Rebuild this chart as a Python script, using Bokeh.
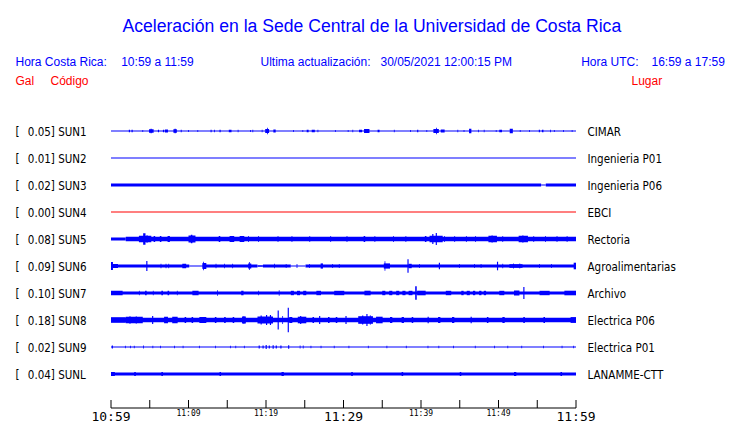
from bokeh.plotting import figure
from bokeh.models import Range1d, ColumnDataSource
from bokeh.core.properties import value
from bokeh.embed import file_html
from bokeh.resources import INLINE

# ---------------- data ----------------
TITLE = "Aceleración en la Sede Central de la Universidad de Costa Rica"
LOCAL_LABEL = "Hora Costa Rica:"
LOCAL_RANGE = "10:59 a 11:59"
UPDATE_LABEL = "Ultima actualización:"
UPDATE_VALUE = "30/05/2021 12:00:15 PM"
UTC_LABEL = "Hora UTC:"
UTC_RANGE = "16:59 a 17:59"
HEAD_GAL, HEAD_CODE, HEAD_PLACE = "Gal", "Código", "Lugar"

CODES = ["SUN1", "SUN2", "SUN3", "SUN4", "SUN5", "SUN6", "SUN7", "SUN8", "SUN9", "SUNL"]
GAL = [0.05, 0.01, 0.02, 0.00, 0.08, 0.09, 0.10, 0.18, 0.02, 0.04]
PLACES = ["CIMAR", "Ingenieria P01", "Ingenieria P06", "EBCI", "Rectoria",
          "Agroalimentarias", "Archivo", "Electrica P06", "Electrica P01", "LANAMME-CTT"]
TRACE_COLORS = ["blue", "blue", "blue", "red", "blue", "blue", "blue", "blue", "blue", "blue"]

# time axis (minutes after 10:59)
TICKS = list(range(0, 61, 5))
LABEL_TICKS = [0, 10, 20, 30, 40, 50, 60]
LABEL_TEXT = ["10:59", "11:09", "11:19", "11:29", "11:39", "11:49", "11:59"]
BIG_LABELS = [0, 30, 60]

# trace envelopes: (start minute, end minute, half amplitude)
SUN1 = [(0, 60, 0.5), (2.3, 2.45, 1.2), (2.65, 2.8, 1.2), (4.05, 4.15, 0.9), (4.9, 5.5, 1.8),
        (5.1, 5.25, 2.2), (6.05, 6.2, 1.3), (6.7, 6.85, 1.3), (6.95, 7.35, 1.5), (8.05, 8.5, 1.8),
        (8.2, 8.35, 2.3), (9.0, 9.12, 1.2), (9.95, 10.05, 0.9), (11.15, 11.25, 0.9), (12.85, 12.98, 1.2),
        (13.3, 13.4, 1.2), (14.0, 14.15, 1.3), (15.2, 15.55, 1.3), (16.35, 16.45, 1.2), (17.95, 18.05, 1.0),
        (18.25, 18.35, 1.2), (19.45, 19.55, 1.2), (19.9, 20.4, 2.0), (20.15, 20.25, 3.3), (20.95, 21.25, 1.6),
        (23.5, 23.6, 0.9), (24.7, 24.8, 0.9), (25.25, 25.5, 1.3), (25.9, 26.3, 1.3), (26.65, 26.75, 1.2),
        (28.9, 29.0, 0.9), (30.55, 30.65, 0.9), (31.15, 31.25, 1.2), (32.0, 32.4, 1.3), (32.65, 33.35, 1.9),
        (34.4, 34.65, 1.3), (36.5, 36.6, 1.2), (38.6, 38.7, 0.9), (39.5, 39.65, 1.2), (40.7, 40.8, 0.9),
        (41.6, 42.3, 1.9), (41.95, 42.05, 3.3), (42.55, 43.05, 1.6), (44.7, 44.8, 1.2), (45.5, 45.6, 0.9),
        (46.2, 46.5, 2.3), (47.35, 47.45, 1.2), (48.1, 48.2, 1.2), (49.65, 49.75, 1.0), (50.1, 50.45, 1.3),
        (51.45, 51.85, 2.2), (52.75, 52.85, 0.9), (53.95, 54.05, 0.9), (55.2, 55.35, 1.2), (55.6, 55.8, 1.3),
        (56.65, 56.75, 1.2), (57.15, 57.25, 1.0), (58.35, 58.45, 0.9), (59.45, 59.55, 1.0)]
SUN2 = [(0, 60, 0.5)]
SUN3 = [(0, 55.5, 1.5), (55.5, 56.1, 0.5), (56.1, 60, 1.5)]
SUN4 = [(0, 60, 0.5)]
SUN5 = [(0, 1.9, 1.5), (1.9, 60, 2.3), (3.6, 5.2, 3.2), (4.15, 4.45, 5.8), (4.6, 4.7, 4.0),
        (5.5, 5.7, 2.9), (6.3, 6.5, 2.9), (7.3, 7.6, 2.9), (10.0, 10.9, 3.5), (10.3, 10.5, 4.3),
        (13.9, 14.1, 3.0), (15.3, 15.9, 2.9), (16.6, 17.2, 2.9), (17.7, 17.8, 3.0), (19.0, 19.1, 2.9),
        (21.5, 21.6, 2.9), (23.3, 23.4, 2.9), (25.6, 25.7, 2.9), (28.3, 28.4, 2.9), (30.4, 30.5, 2.9),
        (32.6, 32.8, 2.9), (34.0, 34.1, 2.9), (36.4, 36.5, 2.9), (38.0, 38.1, 2.9), (40.5, 40.7, 2.9),
        (41.1, 42.8, 3.2), (41.45, 41.6, 5.0), (41.9, 42.05, 6.0), (43.0, 43.1, 3.0), (44.3, 44.4, 2.9),
        (45.8, 45.9, 2.9), (47.0, 47.1, 2.9), (48.7, 49.8, 3.2), (49.1, 49.25, 3.6), (50.5, 50.6, 2.9),
        (52.6, 53.8, 3.2), (53.1, 53.2, 3.8), (54.5, 54.6, 2.9), (56.0, 56.1, 2.9), (57.5, 57.6, 2.9),
        (58.8, 58.9, 2.9)]
SUN6 = [(0, 10.1, 1.5), (10.1, 11.8, 0.5), (11.8, 18.9, 1.5), (18.9, 19.6, 0.8), (19.6, 23.2, 1.5),
        (23.2, 25.1, 0.5), (25.1, 60, 1.5), (0.0, 0.25, 4.0), (0.25, 0.9, 2.0), (4.55, 4.7, 5.0),
        (6.4, 6.5, 2.3), (7.05, 7.15, 2.3), (7.4, 7.5, 2.3), (9.2, 9.7, 2.3), (11.8, 12.3, 3.0),
        (11.9, 12.0, 4.3), (13.5, 13.6, 2.2), (14.6, 14.7, 2.2), (15.65, 15.75, 2.3), (17.7, 18.1, 2.5),
        (17.8, 17.9, 4.0), (21.05, 21.15, 2.3), (22.55, 22.65, 2.0), (23.95, 24.05, 2.0), (25.55, 25.65, 2.0),
        (27.05, 27.35, 2.6), (28.55, 28.65, 2.0), (29.4, 29.5, 2.0), (35.2, 36.0, 2.6), (35.3, 35.4, 4.7),
        (38.25, 38.4, 6.7), (38.4, 38.8, 2.2), (39.75, 39.85, 2.0), (42.3, 42.45, 3.3), (44.9, 45.0, 2.0),
        (46.85, 46.95, 2.0), (47.7, 47.8, 2.0), (49.8, 49.95, 4.3), (50.5, 50.6, 2.3), (51.4, 53.1, 1.8),
        (51.9, 52.0, 2.6), (52.7, 52.8, 2.6), (55.25, 55.35, 2.0), (56.8, 56.9, 2.0), (59.7, 60, 3.3)]
SUN7 = [(0, 60, 1.5), (0, 1.5, 2.2), (3.6, 3.7, 2.2), (4.4, 4.6, 2.2), (5.4, 5.5, 2.2), (6.5, 6.7, 2.2),
        (7.3, 7.5, 2.2), (8.5, 8.6, 2.2), (10.5, 11.3, 2.2), (13.7, 13.8, 2.8), (16.8, 17.1, 2.2),
        (19.0, 19.1, 2.2), (21.65, 21.75, 2.8), (23.2, 23.6, 2.2), (24.0, 24.4, 2.2), (24.8, 25.2, 2.2),
        (26.5, 27.1, 2.2), (28.8, 30.1, 2.2), (32.7, 33.5, 2.3), (35.0, 35.4, 2.2), (35.9, 36.3, 2.2),
        (36.8, 37.2, 2.2), (37.6, 38.0, 2.2), (38.4, 38.9, 2.2), (39.25, 39.45, 6.7), (39.5, 40.6, 2.3),
        (43.2, 43.9, 2.2), (45.2, 45.5, 2.2), (45.9, 46.3, 2.2), (46.7, 47.0, 2.2), (47.5, 47.8, 2.2),
        (48.1, 48.4, 2.2), (50.1, 50.75, 2.2), (52.0, 52.7, 2.5), (53.2, 53.35, 6.0), (55.3, 56.6, 2.2),
        (58.5, 60, 2.3)]
SUN8 = [(0, 60, 2.3), (0, 1.9, 2.8), (1.9, 4.1, 3.3), (2.4, 2.5, 4.0), (3.2, 3.3, 3.8), (5.3, 5.45, 4.0),
        (6.85, 7.35, 3.3), (7.9, 8.6, 3.3), (9.5, 9.7, 3.0), (10.4, 10.6, 3.0), (11.4, 12.3, 3.0),
        (13.4, 13.6, 3.0), (14.6, 14.8, 3.0), (15.7, 15.9, 3.0), (16.9, 17.4, 3.5), (17.1, 17.2, 4.0),
        (18.9, 20.9, 3.5), (19.3, 19.45, 4.5), (20.0, 20.15, 5.0), (20.5, 20.65, 5.0), (21.5, 21.65, 9.5),
        (22.1, 22.2, 4.0), (22.8, 22.95, 12.3), (23.0, 23.4, 3.0), (24.1, 25.2, 3.3), (24.4, 24.55, 4.0),
        (26.0, 26.2, 3.0), (26.85, 27.0, 4.0), (28.0, 28.2, 3.0), (29.0, 29.2, 3.0), (30.25, 30.4, 4.0),
        (31.9, 33.8, 3.8), (32.4, 32.55, 4.5), (32.95, 33.1, 6.0), (33.4, 33.5, 4.8), (34.2, 35.05, 3.3),
        (36.0, 36.3, 3.0), (37.5, 37.8, 3.0), (38.8, 39.0, 3.0), (40.85, 41.0, 3.3), (42.2, 42.5, 3.0),
        (44.0, 44.3, 3.0), (46.4, 46.55, 3.3), (48.5, 48.7, 3.0), (50.5, 50.8, 3.0), (53.2, 53.4, 3.0),
        (55.8, 56.0, 3.0), (59.3, 60, 2.9)]
SUN9 = [(0, 60, 0.5), (0.1, 0.25, 1.5), (1.8, 1.9, 1.2), (2.45, 2.55, 1.2), (2.95, 3.05, 1.2),
        (4.15, 4.25, 1.5), (5.35, 5.45, 1.2), (6.35, 6.45, 1.2), (8.15, 8.25, 1.2), (9.25, 9.35, 1.2),
        (11.35, 11.45, 1.2), (13.45, 13.55, 1.2), (15.35, 15.45, 1.2), (16.05, 16.15, 1.2), (17.15, 17.25, 1.2),
        (19.05, 19.2, 1.5), (19.55, 19.7, 1.5), (19.95, 20.1, 2.0), (20.35, 20.5, 1.5), (20.85, 21.0, 1.8),
        (21.25, 21.4, 1.5), (21.85, 22.0, 1.5), (22.85, 23.0, 1.8), (24.35, 24.45, 1.5), (24.75, 24.85, 1.5),
        (25.75, 25.85, 1.2), (27.05, 27.15, 1.2), (28.75, 28.85, 1.2), (30.65, 30.75, 1.2), (33.15, 33.25, 1.2),
        (35.55, 35.65, 1.2), (38.05, 38.15, 1.2), (40.85, 40.95, 1.2), (42.25, 42.35, 1.2), (44.15, 44.25, 1.2),
        (46.95, 47.05, 1.2), (49.45, 49.55, 1.2), (51.15, 51.25, 1.2), (52.95, 53.05, 1.2), (55.75, 55.85, 1.2),
        (58.15, 58.25, 1.2), (59.65, 59.75, 1.2)]
SUNL = [(0, 60, 1.5), (0, 0.5, 2.0), (3.0, 3.2, 2.0), (6.5, 6.7, 2.0), (14.0, 14.2, 2.0), (22.0, 22.3, 2.0),
        (31.0, 31.2, 2.0), (37.5, 37.7, 2.0), (45.0, 45.2, 2.0), (52.0, 52.3, 2.0), (58.0, 58.2, 2.0)]
TRACES = [SUN1, SUN2, SUN3, SUN4, SUN5, SUN6, SUN7, SUN8, SUN9, SUNL]

# ---------------- layout ----------------
W, H = 740, 423
PX_PER_MIN = 7.75      # horizontal scale
ROW_PX = 27.0          # vertical distance between stations
X_ORIGIN = 110.5       # canvas x of minute 0
Y_ORIGIN = 130.5       # canvas y of row 0
TXT_SHIFT = 0.27       # baseline correction, in em


def cx(px):  # canvas x -> minutes
    return (px - X_ORIGIN) / PX_PER_MIN


def cy(px):  # canvas y -> row units
    return (px - Y_ORIGIN) / ROW_PX


def base(px, size):  # baseline at canvas y px for a font of given size
    return cy(px - TXT_SHIFT * size)


p = figure(width=W, height=H, output_backend="svg", toolbar_location=None,
           x_range=Range1d(cx(0), cx(W)), y_range=Range1d(cy(H), cy(0)),
           x_axis_type=None, y_axis_type=None, min_border=0,
           min_border_left=0, min_border_right=0, min_border_top=0, min_border_bottom=0,
           outline_line_color=None, background_fill_color="white")
p.xgrid.visible = False
p.ygrid.visible = False

# traces
for i, (events, color) in enumerate(zip(TRACES, TRACE_COLORS)):
    src = ColumnDataSource(dict(
        left=[e[0] for e in events], right=[e[1] for e in events],
        bottom=[i + e[2] / ROW_PX for e in events], top=[i - e[2] / ROW_PX for e in events]))
    p.quad(left="left", right="right", bottom="bottom", top="top", source=src,
           fill_color=color, line_color=None)

rows = list(range(len(CODES)))
lab_font = value("DejaVu Sans Condensed")
LS = 11.5
lab_y = [r + base(Y_ORIGIN + 4, LS) - cy(Y_ORIGIN) for r in rows]
p.text(x=[cx(15)] * len(rows), y=lab_y, text=["["] * len(rows),
       text_font=lab_font, text_font_size=f"{LS}px", text_color="black",
       text_baseline="alphabetic", text_align="left")
p.text(x=[cx(27.3)] * len(rows), y=lab_y,
       text=[f"{g:.2f}] {c}" for g, c in zip(GAL, CODES)],
       text_font=lab_font, text_font_size=f"{LS}px", text_color="black",
       text_baseline="alphabetic", text_align="left")
p.text(x=[cx(587)] * len(rows), y=lab_y, text=PLACES,
       text_font=lab_font, text_font_size=f"{LS}px", text_color="black",
       text_baseline="alphabetic", text_align="left")

# title and headers
hfont = value("Liberation Sans")
p.text(x=[cx(371.3)], y=[base(30, 17.6)], text=[TITLE], text_font=hfont, text_font_size="17.6px",
       text_color="blue", text_align="center", text_baseline="alphabetic")
p.text(x=[cx(15), cx(120.7), cx(260), cx(380), cx(580.7), cx(651)], y=[base(65, 12)] * 6,
       text=[LOCAL_LABEL, LOCAL_RANGE, UPDATE_LABEL, UPDATE_VALUE, UTC_LABEL, UTC_RANGE],
       text_font=hfont, text_font_size="12px", text_color="blue",
       text_align="left", text_baseline="alphabetic")
p.text(x=[cx(15), cx(50), cx(631)], y=[base(84, 12)] * 3, text=[HEAD_GAL, HEAD_CODE, HEAD_PLACE],
       text_font=hfont, text_font_size="12px", text_color="red",
       text_align="left", text_baseline="alphabetic")

# time axis
axis_y = cy(407.5)
tick_len = 8 / ROW_PX
p.segment(x0=[TICKS[0]], x1=[TICKS[-1]], y0=[axis_y], y1=[axis_y], line_color="black", line_width=1)
p.segment(x0=TICKS, x1=TICKS, y0=[axis_y] * len(TICKS), y1=[axis_y - tick_len] * len(TICKS),
          line_color="black", line_width=1)
big_x = [t for t in LABEL_TICKS if t in BIG_LABELS]
big_t = [s for t, s in zip(LABEL_TICKS, LABEL_TEXT) if t in BIG_LABELS]
small_x = [t for t in LABEL_TICKS if t not in BIG_LABELS]
small_t = [s for t, s in zip(LABEL_TICKS, LABEL_TEXT) if t not in BIG_LABELS]
mono = value("DejaVu Sans Mono")
p.text(x=big_x, y=[base(419.5, 13)] * len(big_x), text=big_t, text_font=mono, text_font_size="13px",
       text_color="black", text_align="center", text_baseline="alphabetic")
p.text(x=small_x, y=[base(415.5, 8)] * len(small_x), text=small_t, text_font=mono, text_font_size="8px",
       text_color="black", text_align="center", text_baseline="alphabetic")

open("out.html", "w").write(file_html(p, INLINE))
